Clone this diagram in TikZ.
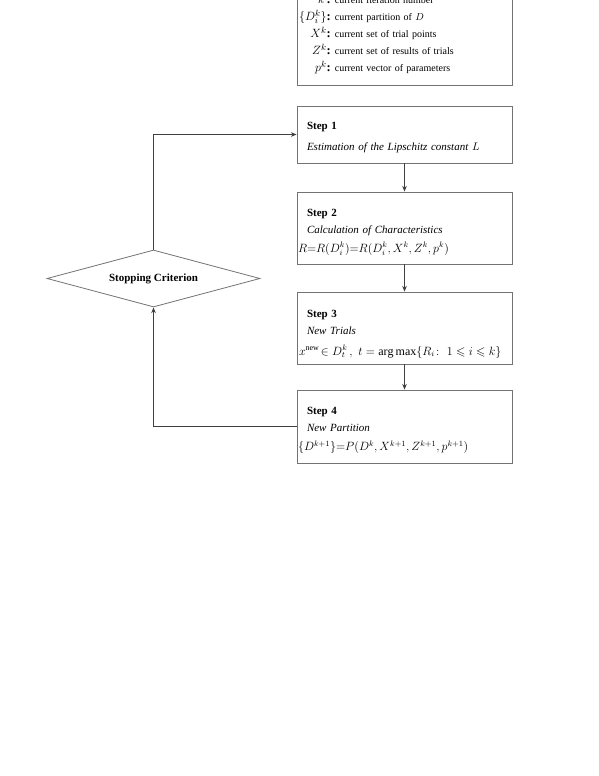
\documentclass[tikz,border=0pt]{standalone}
\usepackage{amsmath,amssymb}
\usepackage{fontspec}
\setmainfont{Liberation Serif}
\usetikzlibrary{arrows.meta,shapes.geometric}

\newcommand{\lbl}[1]{{\fontsize{12.5}{14}\selectfont$#1$\textbf{:}}}

\begin{document}
\begin{tikzpicture}[x=1pt, y=-1pt,
  box/.style={draw=black!55, line width=0.8pt, rectangle, inner xsep=10pt,
    text width=195pt, align=left, font=\fontsize{11}{17}\selectfont},
  crit/.style={draw=black!55, line width=0.8pt, diamond, aspect=3.7,
    minimum width=213pt, minimum height=57pt, inner sep=0pt,
    font=\fontsize{11}{13}\selectfont\bfseries},
  arr/.style={-{Stealth[length=2mm,width=1.6mm]}, draw=black!75, line width=0.7pt}]
  \useasboundingbox (0,0) rectangle (599,776);
  \clip (0,0) rectangle (599,776);

  % variables of the current iteration
  \node[box, anchor=south, inner ysep=9pt, inner xsep=2pt, text width=211pt,
        font=\fontsize{10}{12}\selectfont] (vars) at (404.5,86) {%
    \renewcommand{\arraystretch}{1.42}%
    \begin{tabular}{@{}r@{\hspace{4pt}}l@{}}
      \lbl{k\,} & current iteration number\\
      \lbl{\{D_i^k\}} & current partition of $D$\\
      \lbl{X^k} & current set of trial points\\
      \lbl{Z^k} & current set of results of trials\\
      \lbl{p^k} & current vector of parameters
    \end{tabular}};

  % the four steps
  \node[box, minimum height=57pt] (s1) at (404.5,134.5)
    {\rule{0pt}{12.5pt}\textbf{Step 1}\\[4pt] \textit{Estimation of the Lipschitz constant $L$}};
  \node[box, minimum height=72pt] (s2) at (404.5,228)
    {\rule{0pt}{15.5pt}\textbf{Step 2}\\ \textit{Calculation of Characteristics}\\[2pt]
     \hspace*{-9pt}{\large $R{=}R(D_i^k){=}R(D_i^k,X^k,Z^k,p^k)$}};
  \node[box, minimum height=72pt] (s3) at (404.5,328)
    {\rule{0pt}{19pt}\textbf{Step 3}\\ \textit{New Trials}\\[4pt]
     \hspace*{-8pt}{\fontsize{12}{14}\selectfont $x^{\mathrm{new}}\!\in D_t^k\,,\ t=\arg\max\{R_i\colon\ 1\leqslant i\leqslant k\}$}};
  \node[box, minimum height=73pt] (s4) at (404.5,426.5)
    {\rule{0pt}{15.5pt}\textbf{Step 4}\\ \textit{New Partition}\\[2pt]
     \hspace*{-9pt}{\large $\{D^{k+1}\}{=}P(D^k,X^{k+1},Z^{k+1},p^{k+1})$}};

  \node[crit] (stop) at (153.5,278.5) {Stopping Criterion};

  \draw[arr] (s1.south) -- (s2.north);
  \draw[arr] (s2.south) -- (s3.north);
  \draw[arr] (s3.south) -- (s4.north);
  \draw[arr] (stop.north) |- (s1.west);
  \draw[arr] (s4.west) -| (stop.south);
\end{tikzpicture}
\end{document}
